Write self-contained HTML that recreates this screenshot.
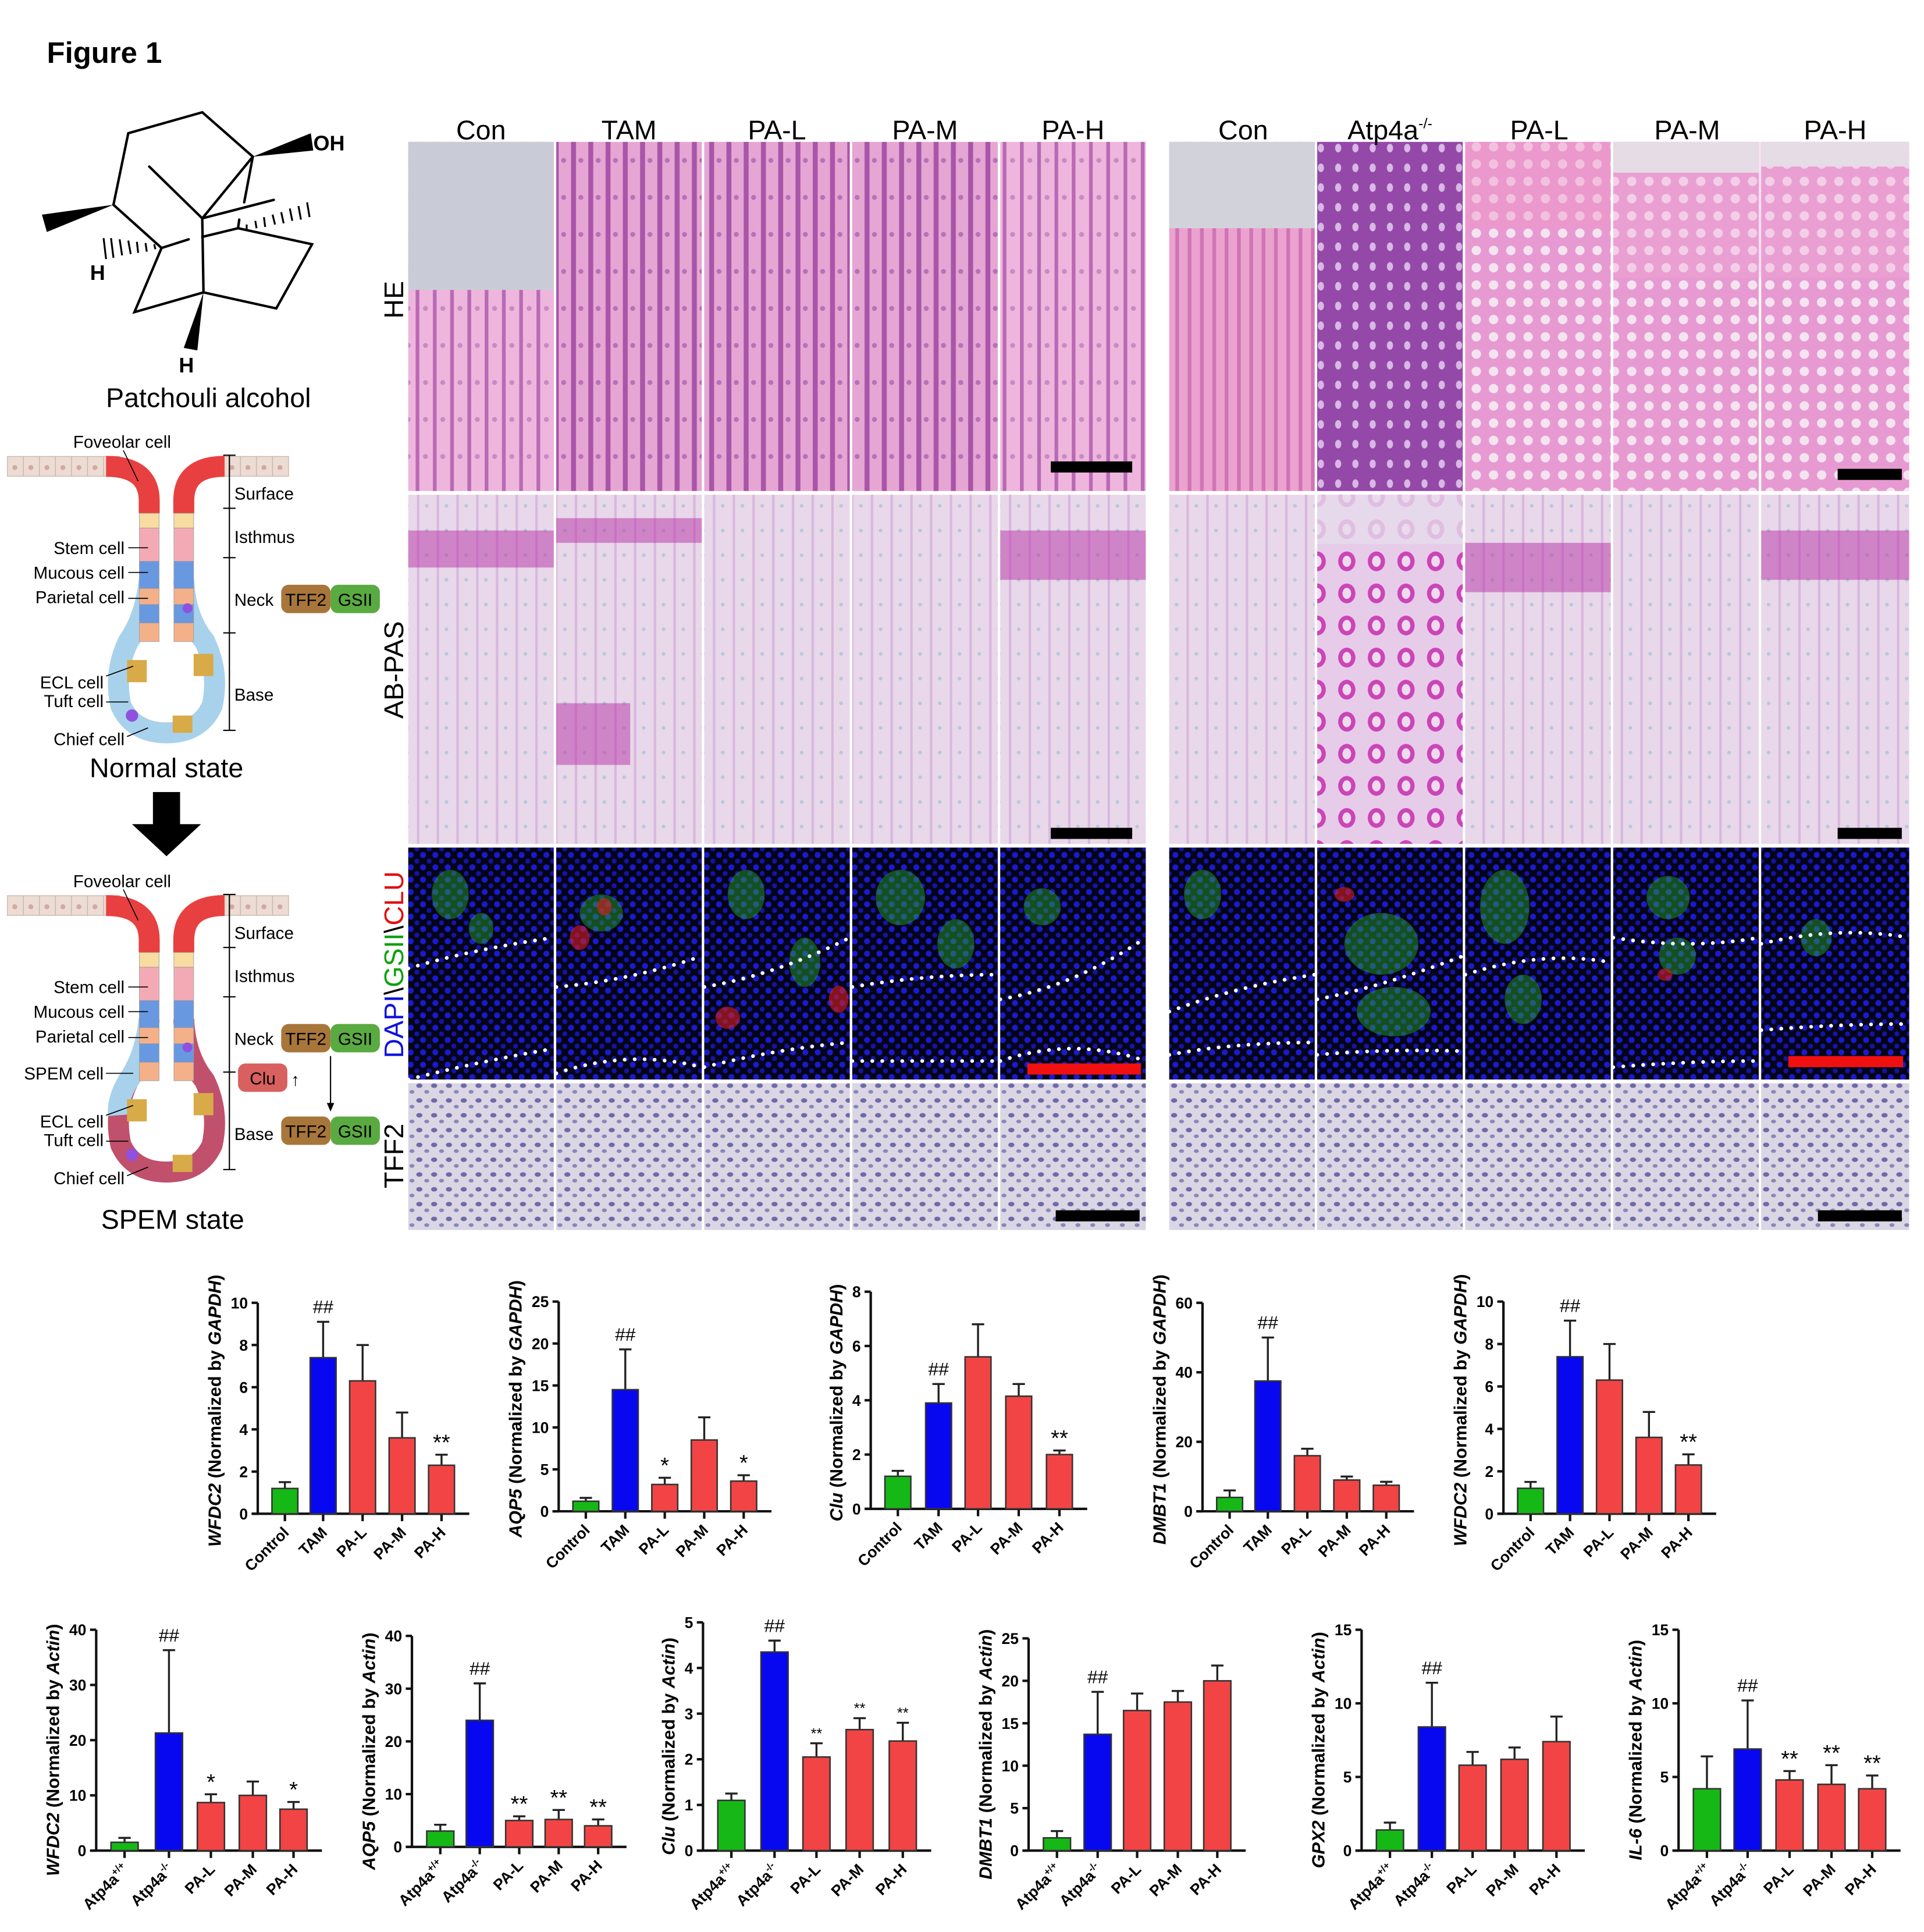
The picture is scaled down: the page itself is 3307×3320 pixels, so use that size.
<!DOCTYPE html>
<html><head><meta charset="utf-8">
<style>
html,body{margin:0;padding:0;background:#fff;}
svg{display:block;}
text{font-family:"Liberation Sans",sans-serif;}
</style></head>
<body>
<svg id="S" xmlns="http://www.w3.org/2000/svg" width="3307" height="3320" viewBox="0 0 1560 1566" preserveAspectRatio="none">
<defs>
<pattern id="he" width="14" height="30" patternUnits="userSpaceOnUse"><rect width="14" height="30" fill="#e6a6d4"/><rect x="1" width="4" height="30" fill="#a955a9"/><circle cx="9" cy="10" r="2" fill="#b870b8"/></pattern>
<pattern id="heL" width="14" height="30" patternUnits="userSpaceOnUse"><rect width="14" height="30" fill="#eeb6dc"/><rect x="1" width="3" height="30" fill="#b86ab6"/><circle cx="9" cy="10" r="2" fill="#c98ac4"/></pattern>
<pattern id="heD" width="14" height="16" patternUnits="userSpaceOnUse"><rect width="14" height="16" fill="#9448a8"/><ellipse cx="7" cy="8" rx="2.5" ry="3.5" fill="#d8b8e4"/></pattern>
<pattern id="heB" width="14" height="14" patternUnits="userSpaceOnUse"><rect width="14" height="14" fill="#e79ad2"/><circle cx="7" cy="7" r="3.8" fill="#f4e4f0"/></pattern>
<pattern id="heC" width="10" height="12" patternUnits="userSpaceOnUse"><rect width="10" height="12" fill="#eba2cf"/><rect x="3" width="3" height="12" fill="#cf74b4"/></pattern>
<pattern id="ab" width="16" height="20" patternUnits="userSpaceOnUse"><rect width="16" height="20" fill="#e8d8ea"/><rect x="2" width="2" height="20" fill="#d8b8de"/><circle cx="10" cy="10" r="1.5" fill="#b8c8dc"/></pattern>
<pattern id="abM" width="24" height="26" patternUnits="userSpaceOnUse"><rect width="24" height="26" fill="#e6cce8"/><ellipse cx="12" cy="13" rx="7" ry="8" fill="#cc44b8"/><ellipse cx="12" cy="13" rx="3.5" ry="4.5" fill="#eedcee"/></pattern>
<pattern id="if" width="10" height="10" patternUnits="userSpaceOnUse"><rect width="10" height="10" fill="#040418"/><circle cx="3" cy="3" r="2.4" fill="#1a1ad0"/><circle cx="8" cy="8" r="2" fill="#1414a8"/></pattern>
<pattern id="tf" width="12" height="12" patternUnits="userSpaceOnUse"><rect width="12" height="12" fill="#dad6e4"/><ellipse cx="4" cy="4" rx="2.5" ry="1.8" fill="#6e6aa8"/><ellipse cx="10" cy="9" rx="2" ry="1.5" fill="#8a86b8"/></pattern>
</defs>

<text x="38" y="51" font-size="24" font-weight="bold">Figure 1</text>

<g stroke="#000" stroke-width="2" fill="none" stroke-linecap="round">
<polyline points="92,166 104,108 164,91 205,127"/>
<line x1="92" y1="166" x2="131" y2="201"/>
<line x1="121" y1="135" x2="164" y2="177"/>
<line x1="164" y1="177" x2="205" y2="127"/>
<line x1="205" y1="127" x2="198" y2="164"/>
<line x1="194" y1="178" x2="193" y2="185"/>
<line x1="164" y1="177" x2="222" y2="162"/>
<line x1="131" y1="201" x2="153" y2="194"/>
<line x1="164" y1="192" x2="193" y2="185"/>
<polyline points="193,185 253,198 224,250 165,237 109,253 131,201"/>
<line x1="164" y1="177" x2="165" y2="237"/>
</g>
<g fill="#000">
<polygon points="205,127 252,108 254,122"/>
<polygon points="92,166 34,174 38,188"/>
<polygon points="165,237 149,282 160,284"/>
</g>
<g stroke="#000" stroke-width="1.5">
<line x1="200" y1="182" x2="200" y2="186"/><line x1="207" y1="179" x2="208" y2="185"/><line x1="214" y1="176" x2="215" y2="184"/><line x1="221" y1="174" x2="223" y2="182"/><line x1="228" y1="172" x2="230" y2="181"/><line x1="235" y1="169" x2="237" y2="179"/><line x1="242" y1="167" x2="244" y2="178"/><line x1="249" y1="164" x2="251" y2="176"/>
<line x1="125" y1="198" x2="126" y2="202"/><line x1="118" y1="197" x2="119" y2="204"/><line x1="111" y1="196" x2="112" y2="205"/><line x1="104" y1="195" x2="106" y2="206"/><line x1="97" y1="194" x2="99" y2="207"/><line x1="90" y1="193" x2="92" y2="209"/><line x1="84" y1="193" x2="86" y2="210"/>
</g>
<text x="254" y="122" font-size="17" font-weight="bold">OH</text>
<text x="73" y="227" font-size="17" font-weight="bold">H</text>
<text x="145" y="302" font-size="17" font-weight="bold">H</text>
<text x="169" y="330" font-size="22" text-anchor="middle">Patchouli alcohol</text>

<g id="glands"></g>

<rect x="124" y="642" width="22" height="28" fill="#000"/>
<polygon points="107,668 163,668 135,694" fill="#000"/>
<text x="135" y="630" font-size="22" text-anchor="middle">Normal state</text>
<text x="140" y="996" font-size="22" text-anchor="middle">SPEM state</text>

<g id="panels"></g>
<g id="charts"></g>
</svg>
<script>
var S=document.getElementById('S');var NS='http://www.w3.org/2000/svg';
function el(tag,attrs,parent,txt){var e=document.createElementNS(NS,tag);for(var k in attrs)e.setAttribute(k,attrs[k]);if(txt!==undefined)e.textContent=txt;(parent||S).appendChild(e);return e;}

var G=document.getElementById('glands');
function gland(dy,spem){
  var g=el('g',{transform:'translate(0,'+dy+')'},G);
  for(var x=6;x<86;x+=13){el('rect',{x:x,y:370,width:13,height:16,fill:'#ecdcd4',stroke:'#c8b4aa','stroke-width':0.6},g);el('circle',{cx:x+6,cy:379,r:2,fill:'#d0aaa0'},g);}
  for(var x=182;x<230;x+=13){el('rect',{x:x,y:370,width:13,height:16,fill:'#ecdcd4',stroke:'#c8b4aa','stroke-width':0.6},g);el('circle',{cx:x+6,cy:379,r:2,fill:'#d0aaa0'},g);}
  var base=spem?'#c0506c':'#a8d2ec';
  el('path',{d:'M121 470 Q118 500 104 520 Q92 545 98 572 Q108 594 135 594 Q162 594 172 572 Q178 545 166 520 Q150 500 149 470',fill:'none',stroke:base,'stroke-width':17},g);
  if(spem){el('path',{d:'M121 470 Q118 500 104 520 Q95 535 96 548',fill:'none',stroke:'#a8d2ec','stroke-width':17},g);}
  el('rect',{x:103,y:535,width:16,height:18,fill:'#d8aa48'},g);
  el('rect',{x:157,y:530,width:16,height:18,fill:'#d8aa48'},g);
  el('rect',{x:140,y:580,width:16,height:14,fill:'#d8aa48'},g);
  el('path',{d:'M86 378 Q121 378 121 406 L121 416',fill:'none',stroke:'#e84040','stroke-width':17},g);
  el('path',{d:'M182 378 Q149 378 149 406 L149 416',fill:'none',stroke:'#e84040','stroke-width':17},g);
  var segs=[[416,428,'#f8dca0'],[428,455,'#f4aab4'],[455,477,'#6898e0'],[477,490,'#f4b088'],[490,505,'#6898e0'],[505,520,'#f4b088']];
  segs.forEach(function(s){el('rect',{x:113,y:s[0],width:16,height:s[1]-s[0],fill:s[2],stroke:'#999','stroke-width':0.4},g);el('rect',{x:141,y:s[0],width:16,height:s[1]-s[0],fill:s[2],stroke:'#999','stroke-width':0.4},g);});
  el('circle',{cx:107,cy:580,r:5,fill:'#9050e0'},g);
  el('circle',{cx:152,cy:493,r:4,fill:'#9050e0'},g);
  el('line',{x1:186,y1:369,x2:186,y2:592,stroke:'#000','stroke-width':1},g);
  [369,412,452,513,592].forEach(function(y){el('line',{x1:181,y1:y,x2:191,y2:y,stroke:'#000','stroke-width':1},g);});
  el('text',{x:190,y:405,'font-size':14},g,'Surface');
  el('text',{x:190,y:440,'font-size':14},g,'Isthmus');
  el('text',{x:190,y:491,'font-size':14},g,'Neck');
  el('text',{x:190,y:568,'font-size':14},g,'Base');
  el('text',{x:99,y:363,'font-size':14,'text-anchor':'middle'},g,'Foveolar cell');
  el('line',{x1:100,y1:365,x2:112,y2:390,stroke:'#000','stroke-width':0.8},g);
  var L=[['Stem cell',101,449,440],['Mucous cell',101,469,460],['Parietal cell',101,489,481]];
  L.forEach(function(a){el('text',{x:a[1],y:a[2],'font-size':14,'text-anchor':'end'},g,a[0]);el('line',{x1:a[1]+3,y1:a[3]+4,x2:120,y2:a[3]+4,stroke:'#000','stroke-width':0.8},g);});
  el('text',{x:84,y:558,'font-size':14,'text-anchor':'end'},g,'ECL cell');
  el('text',{x:84,y:573,'font-size':14,'text-anchor':'end'},g,'Tuft cell');
  el('text',{x:101,y:604,'font-size':14,'text-anchor':'end'},g,'Chief cell');
  el('line',{x1:86,y1:548,x2:108,y2:540,stroke:'#000','stroke-width':0.8},g);
  el('line',{x1:86,y1:569,x2:104,y2:569,stroke:'#000','stroke-width':0.8},g);
  el('line',{x1:103,y1:597,x2:120,y2:590,stroke:'#000','stroke-width':0.8},g);
  function boxes(y){el('rect',{x:228,y:y,width:40,height:23,rx:6,fill:'#a8763a'},g);el('text',{x:248,y:y+17,'font-size':14,'text-anchor':'middle'},g,'TFF2');
    el('rect',{x:268,y:y,width:40,height:23,rx:6,fill:'#5aaa42'},g);el('text',{x:288,y:y+17,'font-size':14,'text-anchor':'middle'},g,'GSII');}
  boxes(474);
  if(spem){boxes(549);
    el('rect',{x:193,y:506,width:40,height:23,rx:6,fill:'#d8605e'},g);el('text',{x:213,y:523,'font-size':14,'text-anchor':'middle'},g,'Clu');
    el('text',{x:236,y:524,'font-size':14},g,'↑');
    el('line',{x1:268,y1:500,x2:268,y2:540,stroke:'#000','stroke-width':1},g);
    el('polygon',{points:'265,538 271,538 268,545',fill:'#000'},g);
    el('text',{x:84,y:519,'font-size':14,'text-anchor':'end'},g,'SPEM cell');
    el('line',{x1:86,y1:514,x2:108,y2:514,stroke:'#000','stroke-width':0.8},g);
  }
}
gland(0,false);gland(356,true);

var P=document.getElementById('panels');
var LX=[331,451,571,691,811],RX=[948,1068,1188,1308,1428];
var heL=['heL','he','he','he','heL'],heR=['heC','heD','heB','heB','heB'];
function R(x,y,w,h,f){el('rect',{x:x,y:y,width:w,height:h,fill:f},P);}
for(var i=0;i<5;i++){
  R(LX[i],115,118,283,'url(#'+heL[i]+')');
  R(RX[i],115,i==4?120:118,283,'url(#'+heR[i]+')');
  R(LX[i],401,118,283,'url(#ab)');
  R(RX[i],401,i==4?120:118,283,i==1?'url(#abM)':'url(#ab)');
  R(LX[i],687,118,188,'url(#if)');
  R(RX[i],687,i==4?120:118,188,'url(#if)');
  R(LX[i],878,118,119,'url(#tf)');
  R(RX[i],878,i==4?120:118,119,'url(#tf)');
}
R(331,115,118,120,'#c9ccd6');
R(948,115,118,70,'#d2d2da');
R(1188,115,118,70,'rgba(240,150,200,0.45)');
R(1308,115,120,110,'rgba(240,170,215,0.35)');R(1428,115,120,110,'rgba(240,170,215,0.35)');
R(1308,115,118,25,'#e6dce6');R(1428,115,120,20,'#e6dce6');
[[331,430,118,30],[451,420,118,20],[811,430,118,40],[1188,440,118,40],[1428,430,120,40],[451,570,60,50]].forEach(function(a){R(a[0],a[1],a[2],a[3],'rgba(180,30,160,0.45)');});
R(1068,401,118,40,'rgba(230,220,235,0.8)');
// IF blobs
[[350,705,30,40],[380,740,20,25],[470,725,35,30],[590,705,30,40],[640,760,25,40],[710,705,40,45],[760,745,30,40],[830,720,30,30],[960,705,30,40],[1090,740,60,50],[1100,800,60,40],[1200,705,40,60],[1220,790,30,40],[1335,710,35,35],[1345,760,30,30],[1460,745,25,30]].forEach(function(a){el('ellipse',{cx:a[0]+a[2]/2,cy:a[1]+a[3]/2,rx:a[2]/2,ry:a[3]/2,fill:'rgba(40,170,40,0.45)'},P);});
[[470,760,8,20],[490,735,6,14],[590,825,10,18],[680,810,8,22],[1090,725,8,12],[1350,790,6,10]].forEach(function(a){el('ellipse',{cx:a[0],cy:a[1],rx:a[2],ry:a[3]/2,fill:'rgba(220,30,30,0.6)'},P);});
var wl='M331 785 Q380 770 449 760 M451 800 Q510 795 569 775 M571 800 Q630 790 689 760 M691 800 Q750 790 809 790 M811 810 Q870 800 929 760 M948 820 Q1000 800 1066 790 M1068 810 Q1120 800 1186 775 M1188 790 Q1250 770 1306 780 M1308 760 Q1370 770 1426 760 M1428 765 Q1490 750 1548 760 M331 875 Q390 860 449 850 M451 870 Q510 850 569 865 M571 865 Q630 850 689 845 M691 860 Q750 860 809 860 M811 860 Q870 840 929 860 M948 855 Q1000 845 1066 845 M1068 855 Q1120 850 1186 852 M1308 865 Q1370 860 1426 860 M1428 835 Q1490 830 1548 830';
el('path',{d:wl,fill:'none',stroke:'#fff','stroke-width':3,'stroke-dasharray':'0.1 8','stroke-linecap':'round'},P);
R(852,374,66,9,'#000');R(1490,380,52,9,'#000');R(852,671,66,9,'#000');R(1490,671,52,9,'#000');
R(833,862,92,9,'#f01010');R(1450,856,93,9,'#f01010');R(856,981,68,9,'#000');R(1474,981,68,9,'#000');
var hL=['Con','TAM','PA-L','PA-M','PA-H'];
for(var i=0;i<5;i++){el('text',{x:LX[i]+59,y:113,'font-size':22,'text-anchor':'middle'},P,hL[i]);}
var hR=['Con','','PA-L','PA-M','PA-H'];
for(var i=0;i<5;i++){if(hR[i])el('text',{x:RX[i]+60,y:113,'font-size':22,'text-anchor':'middle'},P,hR[i]);}
var t=el('text',{x:1127,y:113,'font-size':22,'text-anchor':'middle'},P,'Atp4a');el('tspan',{'font-size':12,dy:-9},t,'-/-');
function rot(txt,x,y,fill){return el('text',{x:x,y:y,'font-size':22,'text-anchor':'middle',transform:'rotate(-90 '+x+' '+y+')',fill:fill||'#000'},P,txt);}
rot('HE',327,243);rot('AB-PAS',327,543);rot('TFF2',327,937);
var d=el('text',{x:327,y:782,'font-size':22,'text-anchor':'middle',transform:'rotate(-90 327 782)'},P);
el('tspan',{fill:'#1010e0'},d,'DAPI');el('tspan',{fill:'#000'},d,'\\');el('tspan',{fill:'#10a010'},d,'GSII');el('tspan',{fill:'#000'},d,'\\');el('tspan',{fill:'#e01010'},d,'CLU');

var C=document.getElementById('charts');
var GR='#16b816',BL='#0808f0',RD='#f24444';
function chart(o){
  var bw=o.bw,ax=o.bars[0]-bw-1,rng=o.bot-o.top;
  function Y(v){return o.bot-v/o.max*rng;}
  var g=el('g',{},C);
  var xe=o.bars[4]+bw/2+12;
  el('line',{x1:ax,y1:o.top,x2:ax,y2:o.bot,stroke:'#111','stroke-width':2},g);
  el('line',{x1:ax-5,y1:o.bot,x2:xe,y2:o.bot,stroke:'#111','stroke-width':2},g);
  var nd=String(o.max).length;
  for(var v=0;v<=o.max+1e-9;v+=o.step){var y=Y(v);el('line',{x1:ax-5,y1:y,x2:ax,y2:y,stroke:'#111','stroke-width':2},g);
    el('text',{x:ax-8,y:y+4.5,'font-size':12.5,'font-weight':'bold','text-anchor':'end'},g,String(v));}
  var cols=[GR,BL,RD,RD,RD];
  for(var i=0;i<5;i++){var x=o.bars[i],v=o.v[i],e=o.e[i];
    el('line',{x1:x,y1:o.bot,x2:x,y2:o.bot+6,stroke:'#111','stroke-width':2},g);
    var ty=Y(v+e);
    el('line',{x1:x,y1:Y(v),x2:x,y2:ty,stroke:'#222','stroke-width':1.6},g);
    el('line',{x1:x-5,y1:ty,x2:x+5,y2:ty,stroke:'#222','stroke-width':1.6},g);
    el('rect',{x:x-bw/2,y:Y(v),width:bw,height:o.bot-Y(v),fill:cols[i],stroke:'#333','stroke-width':1.2},g);
    if(o.s[i]){var big=o.s[i]=='##';el('text',{x:x,y:ty-(big?7:4),'font-size':big?15:(o.small?12:18),'text-anchor':'middle','font-family':'Liberation Serif, serif'},g,o.s[i]);}
    var lx=x+4,ly=o.bot+16;
    var tt=el('text',{x:lx,y:ly,'font-size':12.5,'font-weight':'bold','text-anchor':'end',transform:'rotate(-45 '+lx+' '+ly+')'},g);
    if(o.atp&&i<2){tt.appendChild(document.createTextNode('Atp4a'));el('tspan',{'font-size':8,dy:-5},tt,i==0?'+/+':'-/-');}
    else tt.textContent=o.lab[i];
  }
  var lxp=ax-16-7*nd,cy=(o.top+o.bot)/2+(o.atp?8:2);
  var yl=el('text',{x:lxp,y:cy,'font-size':14.5,'font-weight':'bold','text-anchor':'middle',transform:'rotate(-90 '+lxp+' '+cy+')'},g);
  el('tspan',{'font-style':'italic'},yl,o.gene);yl.appendChild(document.createTextNode(' (Normalized by '));
  el('tspan',{'font-style':'italic'},yl,o.norm);yl.appendChild(document.createTextNode(')'));
}
var TL=['Control','TAM','PA-L','PA-M','PA-H'];
var T=[
 {bars:[231,262,294,326,358],top:1056,bot:1227,max:10,step:2,v:[1.2,7.4,6.3,3.6,2.3],e:[0.3,1.7,1.7,1.2,0.5],s:['','##','','','**'],gene:'WFDC2'},
 {bars:[475,507,539,571,603],top:1055,bot:1225,max:25,step:5,v:[1.2,14.5,3.2,8.5,3.6],e:[0.4,4.8,0.8,2.7,0.7],s:['','##','*','','*'],gene:'AQP5'},
 {bars:[728,761,793,826,859],top:1047,bot:1223,max:8,step:2,v:[1.2,3.9,5.6,4.15,2.0],e:[0.2,0.7,1.2,0.45,0.15],s:['','##','','','**'],gene:'Clu'},
 {bars:[997,1028,1060,1092,1124],top:1056,bot:1225,max:60,step:20,v:[4,37.5,16,9,7.5],e:[2,12.5,2,1,1],s:['','##','','',''],gene:'DMBT1'},
 {bars:[1241,1273,1305,1337,1369],top:1055,bot:1227,max:10,step:2,v:[1.2,7.4,6.3,3.6,2.3],e:[0.3,1.7,1.7,1.2,0.5],s:['','##','','','**'],gene:'WFDC2'}
];
T.forEach(function(o){o.bw=21;o.norm='GAPDH';o.lab=TL;chart(o);});
var B=[
 {bars:[101,137,171,205,238],top:1321,bot:1500,max:40,step:10,v:[1.5,21.3,8.7,10,7.5],e:[0.8,15,1.5,2.5,1.3],s:['','##','*','','*'],gene:'WFDC2'},
 {bars:[357,389,421,453,485],top:1326,bot:1497,max:40,step:10,v:[3,24,5,5.2,4],e:[1.2,7,0.8,1.8,1.2],s:['','##','**','**','**'],gene:'AQP5'},
 {bars:[593,628,662,697,732],top:1315,bot:1500,max:5,step:1,v:[1.1,4.35,2.05,2.65,2.4],e:[0.15,0.25,0.3,0.25,0.4],s:['','##','**','**','**'],gene:'Clu',small:1},
 {bars:[857,890,922,955,987],top:1328,bot:1500,max:25,step:5,v:[1.5,13.7,16.5,17.5,20],e:[0.8,5,2,1.3,1.8],s:['','##','','',''],gene:'DMBT1'},
 {bars:[1127,1161,1194,1228,1262],top:1321,bot:1500,max:15,step:5,v:[1.4,8.4,5.8,6.2,7.4],e:[0.5,3,0.9,0.8,1.7],s:['','##','','',''],gene:'GPX2'},
 {bars:[1384,1417,1451,1485,1518],top:1321,bot:1500,max:15,step:5,v:[4.2,6.9,4.8,4.5,4.2],e:[2.2,3.3,0.6,1.3,0.9],s:['','##','**','**','**'],gene:'IL-6'}
];
B.forEach(function(o){o.bw=22;o.norm='Actin';o.atp=1;o.lab=['','','PA-L','PA-M','PA-H'];chart(o);});
</script>
</body></html>
